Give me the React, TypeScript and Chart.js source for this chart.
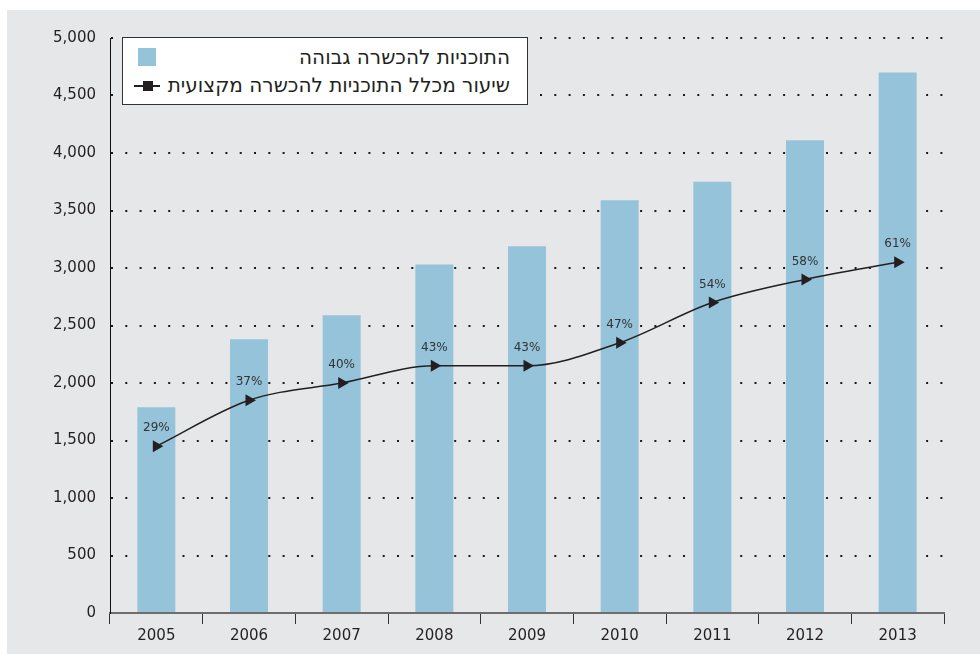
import React, { useEffect, useRef } from "react";
import { Chart, registerables } from "chart.js";

Chart.register(...registerables);

const years = ["2005", "2006", "2007", "2008", "2009", "2010", "2011", "2012", "2013"];
const programs = [1790, 2380, 2590, 3030, 3190, 3590, 3750, 4110, 4700];
const sharePct = [29, 37, 40, 43, 43, 47, 54, 58, 61];
const yTicks = [0, 500, 1000, 1500, 2000, 2500, 3000, 3500, 4000, 4500, 5000];
const barLabel = "התוכניות להכשרה גבוהה";
const lineLabel = "שיעור מכלל התוכניות להכשרה מקצועית";

const FONT = "'DejaVu Sans', sans-serif";
const LFONT = "'DejaVu Sans', sans-serif";
const BAR = "#95c3da";
const INK = "#231f20";

const pctLabels = {
  id: "pctLabels",
  afterDatasetsDraw(chart: any) {
    const meta = chart.getDatasetMeta(1);
    const ctx = chart.ctx;
    ctx.save();
    ctx.font = `12px ${FONT}`;
    ctx.fillStyle = "#333";
    ctx.textAlign = "center";
    ctx.textBaseline = "middle";
    meta.data.forEach((pt: any, i: number) => {
      ctx.fillText(sharePct[i] + "%", pt.x, pt.y - 18);
    });
    ctx.restore();
  },
};

export default function App() {
  const ref = useRef<HTMLCanvasElement>(null);
  useEffect(() => {
    const chart = new Chart(ref.current!, {
      type: "bar",
      data: {
        labels: years,
        datasets: [
          {
            type: "bar",
            label: barLabel,
            data: programs,
            backgroundColor: BAR,
            categoryPercentage: 0.82,
            barPercentage: 0.5,
            yAxisID: "y",
            order: 2,
          },
          {
            type: "line",
            label: lineLabel,
            data: sharePct,
            borderColor: INK,
            backgroundColor: INK,
            borderWidth: 1.5,
            cubicInterpolationMode: "monotone",
            pointStyle: "triangle",
            pointRotation: 90,
            pointRadius: 7,
            pointBorderWidth: 0,
            yAxisID: "y1",
            order: 1,
          } as any,
        ],
      },
      options: {
        animation: false,
        responsive: false,
        maintainAspectRatio: false,
        layout: { padding: { top: 28, right: 36, left: 0, bottom: 0 } },
        plugins: { legend: { display: false }, tooltip: { enabled: false } },
        scales: {
          x: {
            offset: true,
            grid: {
              offset: true,
              drawOnChartArea: false,
              drawTicks: true,
              tickLength: 11,
              color: "#333",
              lineWidth: 1,
            },
            border: { color: "#6d6d6d", width: 2 },
            ticks: { color: INK, font: { family: FONT, size: 15 }, padding: 3 },
            afterFit(s: any) {
              s.height = 41;
            },
          },
          y: {
            min: 0,
            max: 5000,
            afterBuildTicks(s: any) {
              s.ticks = yTicks.map((v) => ({ value: v }));
            },
            grid: {
              drawTicks: false,
              color: (c: any) => (c.tick && c.tick.value === 0 ? "rgba(0,0,0,0)" : "#1a1a1a"),
              lineWidth: 2,
            },
            border: { color: "#111", width: 1, dash: [2, 12.3] } as any,
            ticks: {
              color: INK,
              font: { family: FONT, size: 15 },
              padding: 14,
              callback: (v: any) => Number(v).toLocaleString("en-US"),
            },
            afterFit(s: any) {
              s.width = 103;
            },
          },
          y1: { display: false, min: 0, max: 100 },
        },
      },
      plugins: [pctLabels],
    });
    return () => chart.destroy();
  }, []);

  return (
    <div
      style={{
        position: "absolute",
        left: 7,
        top: 10,
        width: 973,
        height: 644,
        background: "#e6e7e9",
        fontFamily: LFONT,
      }}
    >
      <canvas ref={ref} width={973} height={644} style={{ display: "block" }} />
      <div
        style={{
          position: "absolute",
          left: 115,
          top: 27,
          width: 404,
          height: 66,
          background: "#fff",
          border: "1px solid #333",
        }}
      >
        <div
          style={{
            position: "absolute",
            left: 15,
            top: 10,
            width: 18,
            height: 18,
            background: BAR,
          }}
        />
        <div
          dir="rtl"
          style={{
            position: "absolute",
            right: 17,
            top: 7,
            fontSize: 20,
            lineHeight: "24px",
            color: INK,
            whiteSpace: "nowrap",
          }}
        >
          {barLabel}
        </div>
        <div
          style={{
            position: "absolute",
            left: 11,
            top: 47,
            width: 26,
            height: 2,
            background: INK,
          }}
        />
        <div
          style={{
            position: "absolute",
            left: 20,
            top: 43,
            width: 10,
            height: 10,
            background: INK,
          }}
        />
        <div
          dir="rtl"
          style={{
            position: "absolute",
            right: 17,
            top: 35,
            fontSize: 20,
            lineHeight: "24px",
            color: INK,
            whiteSpace: "nowrap",
          }}
        >
          {lineLabel}
        </div>
      </div>
    </div>
  );
}
